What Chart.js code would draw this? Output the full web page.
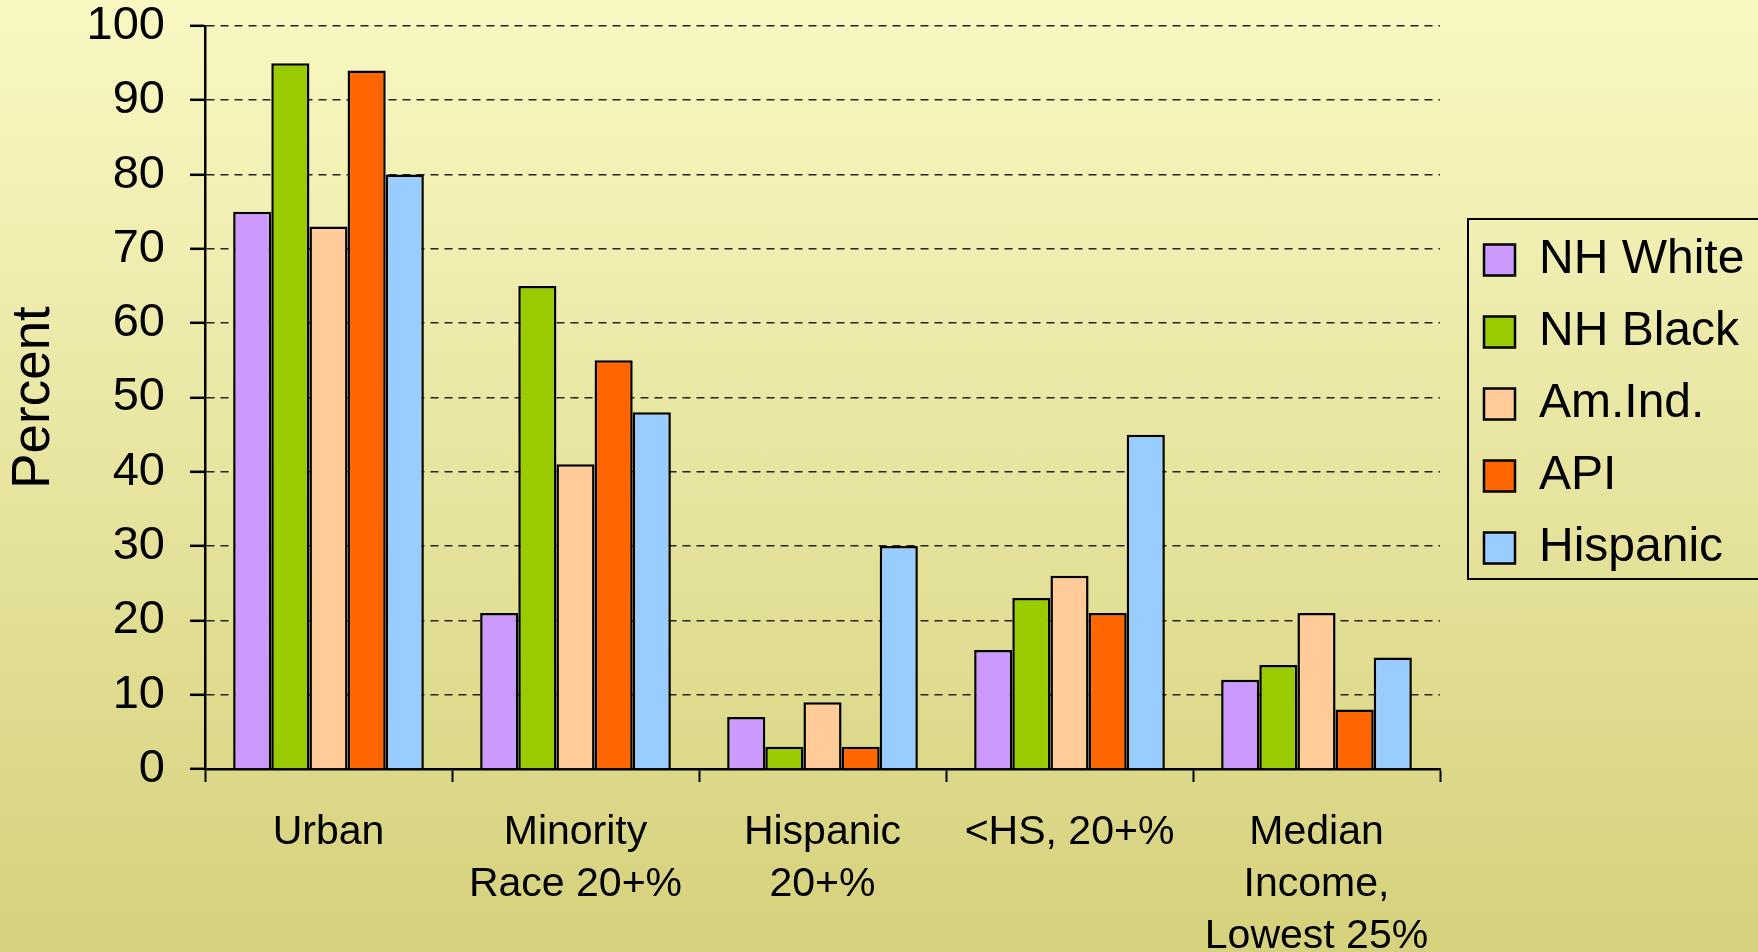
<!DOCTYPE html>
<html>
<head>
<meta charset="utf-8">
<script src="https://cdn.jsdelivr.net/npm/chart.js@4.4.1/dist/chart.umd.min.js"></script>
<style>
  html, body { margin: 0; padding: 0; }
  body { background: linear-gradient(#f9f8c3, #d5d17c); }
  #wrap { width: 1758px; height: 952px; position: relative; }
</style>
</head>
<body>
<div id="wrap"><canvas id="chart"></canvas></div>
<script>
const categories = [
  'Urban',
  ['Minority', 'Race 20+%'],
  ['Hispanic', '20+%'],
  '<HS, 20+%',
  ['Median', 'Income,', 'Lowest 25%']
];
const nhWhite  = [75, 21, 7, 16, 12];
const nhBlack  = [95, 65, 3, 23, 14];
const amInd    = [73, 41, 9, 26, 21];
const api      = [94, 55, 3, 21, 8];
const hispanic = [80, 48, 30, 45, 15];

const FONT = "'Liberation Sans', Arial, sans-serif";

// legend sits a bit further right than chart.js would put it, with a frame
const legendTweak = {
  id: 'legendTweak',
  beforeLayout(chart) {
    const lg = chart.legend;
    if (lg && !lg._wfix) {
      const fit = lg.fit;
      lg.fit = function () { fit.call(this); this.width = 318; };
      lg._wfix = true;
    }
  },
  afterLayout(chart) {
    const lg = chart.legend;
    lg.left += 20;
    lg.right += 20;
    lg.top = 212;
  },
  afterDraw(chart) {
    const hb = chart.legend.legendHitBoxes;
    if (!hb || !hb.length) return;
    const last = hb[hb.length - 1];
    const ctx = chart.ctx;
    ctx.save();
    ctx.strokeStyle = '#000';
    ctx.lineWidth = 2;
    const x = hb[0].left - 16, y = hb[0].top - 17;
    ctx.strokeRect(x, y, chart.width + 10 - x, last.top + last.height + 7 - y);
    ctx.restore();
  }
};

const mk = (label, data, color) => ({
  label: label,
  data: data,
  backgroundColor: color,
  borderColor: '#000',
  borderWidth: 2.5,
  categoryPercentage: 0.772,
  barPercentage: 1.0
});

new Chart(document.getElementById('chart'), {
  type: 'bar',
  data: {
    labels: categories,
    datasets: [
      mk('NH White', nhWhite, '#cc99ff'),
      mk('NH Black', nhBlack, '#99cc00'),
      mk('Am.Ind.', amInd, '#ffcc99'),
      mk('API', api, '#ff6600'),
      mk('Hispanic', hispanic, '#99ccff')
    ]
  },
  options: {
    responsive: true,
    maintainAspectRatio: false,
    animation: false,
    layout: { padding: { top: 0, right: 0, bottom: 0, left: 0 } },
    plugins: {
      tooltip: { enabled: false },
      legend: {
        position: 'right',
        align: 'start',
        labels: {
          boxWidth: 31,
          boxHeight: 31,
          padding: 24,
          color: '#000',
          font: { family: FONT, size: 48 }
        }
      }
    },
    scales: {
      x: {
        afterFit: s => { s.height = 183; },
        border: { color: '#000', width: 2.5 },
        grid: {
          offset: true,
          drawOnChartArea: false,
          drawTicks: true,
          tickLength: 13,
          tickColor: '#000',
          tickWidth: 2
        },
        ticks: {
          color: '#000',
          padding: 25,
          maxRotation: 0,
          autoSkip: false,
          font: { family: FONT, size: 41, lineHeight: 1.27 }
        }
      },
      y: {
        min: 0,
        max: 100,
        afterFit: s => { s.width = 205; s.paddingTop = 26; s.paddingBottom = 0; },
        border: { color: '#000', width: 2.5, dash: [8, 6] },
        grid: {
          color: '#222',
          lineWidth: 1.6,
          tickLength: 15,
          tickColor: '#000',
          tickWidth: 2.5,
          tickBorderDash: []
        },
        ticks: {
          stepSize: 10,
          color: '#000',
          padding: 25,
          font: { family: FONT, size: 47, lineHeight: 1.1 }
        },
        title: {
          display: true,
          text: 'Percent',
          color: '#000',
          padding: { top: 3, bottom: 0 },
          font: { family: FONT, size: 53, lineHeight: 1.2 }
        }
      }
    }
  },
  plugins: [legendTweak]
});
</script>
</body>
</html>
